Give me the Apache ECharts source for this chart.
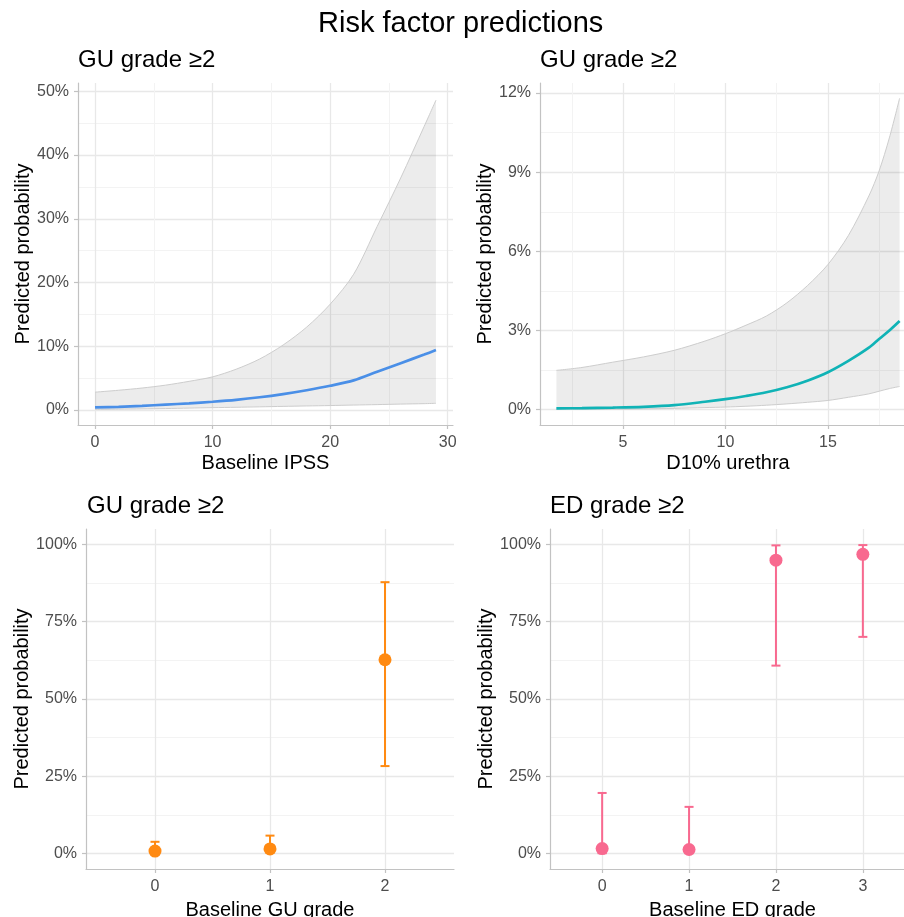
<!DOCTYPE html>
<html><head><meta charset="utf-8">
<script src="https://cdn.jsdelivr.net/npm/echarts@6/dist/echarts.min.js"></script>
<style>html,body{margin:0;padding:0;background:#fff}#c{width:904px;height:917px}</style>
</head><body><div id="c"></div>
<script>
// ---- data (percent) ----
const ipssX    = [0,2,4,6,8,10,12,14,16,18,20,22,24,26,28,29];
const ipssFit  = [0.4,0.5,0.65,0.85,1.05,1.3,1.6,2.0,2.5,3.1,3.8,4.65,6.0,7.35,8.7,9.4];
const ipssLow  = [0.1,0.14,0.18,0.23,0.3,0.37,0.43,0.5,0.57,0.64,0.7,0.78,0.85,0.93,1.0,1.05];
const ipssHigh = [2.8,3.1,3.45,3.9,4.5,5.2,6.4,8.0,10.2,13.0,16.6,21.3,28.8,36.4,44.5,48.6];

const d10X    = [1.75,3,4.5,6,7.5,9,10,11,12,13,14,15,16,17,17.5,18,18.5];
const d10Fit  = [0.05,0.06,0.08,0.11,0.17,0.30,0.40,0.52,0.66,0.85,1.10,1.42,1.85,2.35,2.68,3.0,3.36];
const d10Low  = [0.01,0.015,0.02,0.03,0.05,0.08,0.1,0.13,0.17,0.22,0.28,0.35,0.47,0.6,0.7,0.8,0.88];
const d10High = [1.49,1.6,1.8,2.0,2.25,2.6,2.88,3.2,3.55,4.05,4.7,5.5,6.6,8.1,9.05,10.3,11.8];

const guGrade = [0,1,2];
const guFit   = [0.8,1.5,62.7];
const guLow   = [0.2,0.4,28.3];
const guHigh  = [3.8,5.8,87.8];

const edGrade = [0,1,2,3];
const edFit   = [1.6,1.3,94.9,96.8];
const edLow   = [0.1,0.1,60.8,70.1];
const edHigh  = [19.6,15.1,99.7,99.8];

// ---- tick labels ----
const ipssTicks = [0,10,20,30];
const ipssMinor = [5,15,25];
const ipssYTicks = [0,10,20,30,40,50];
const ipssYMinor = [5,15,25,35,45];
const d10Ticks = [5,10,15];
const d10Minor = [2.5,7.5,12.5,17.5];
const d10YTicks = [0,3,6,9,12];
const d10YMinor = [1.5,4.5,7.5,10.5];
const guTicks = [0,1,2];
const edTicks = [0,1,2,3];
const probTicks = [0,25,50,75,100];
const probMinor = [12.5,37.5,62.5,87.5];

const FONT = 'Liberation Sans, Arial, sans-serif';
const AX = '#c2c2c2', MAJ = '#e8e8e8', MIN = '#f3f3f3';
const SMOOTH = 0.3;

function mainAxis(dir, gi, min, max, ticks, name, gap, pct) {
  const a = {
    type: 'value', gridIndex: gi, min: min, max: max,
    name: name, nameLocation: 'middle', nameGap: gap,
    nameTextStyle: {fontFamily: FONT, fontSize: 20, color: '#000'},
    axisLine: {show: true, onZero: false, lineStyle: {color: AX, width: 1.2}},
    axisTick: {show: true, length: 4, customValues: ticks, lineStyle: {color: AX, width: 1.2}},
    axisLabel: {customValues: ticks, fontFamily: FONT, fontSize: 16, color: '#4d4d4d',
                margin: dir === 'x' ? 10 : 9,
                formatter: pct ? (v => v + '%') : (v => String(v))},
    splitLine: {show: true, lineStyle: {color: MAJ, width: 1.3}},
    position: dir === 'x' ? 'bottom' : 'left'
  };
  if (dir === 'y') a.nameRotate = 90;
  return a;
}
function minorAxis(gi, min, max, vals, pos) {
  return {
    type: 'value', gridIndex: gi, min: min, max: max, position: pos,
    axisLine: {show: false}, axisTick: {show: false, customValues: vals},
    axisLabel: {show: false, customValues: vals},
    splitLine: {show: true, lineStyle: {color: MIN, width: 1}}
  };
}

function ribbon(xs, lo, hi) {
  return function (params, api) {
    if (params.dataIndex !== 0) return null;
    const n = xs.length;
    const up = [], dn = [];
    for (let i = 0; i < n; i++) up.push(api.coord([xs[i], hi[i]]));
    for (let i = n - 1; i >= 0; i--) dn.push(api.coord([xs[i], lo[i]]));
    const poly = [up[0]].concat(up, [up[n - 1]], [dn[0]], dn, [dn[n - 1]]);
    const edge = {stroke: '#cdcdcd', lineWidth: 1, fill: null};
    return {type: 'group', children: [
      {type: 'polygon', shape: {points: poly, smooth: SMOOTH}, style: {fill: 'rgba(0,0,0,0.075)'}},
      {type: 'polyline', shape: {points: up, smooth: SMOOTH}, style: edge},
      {type: 'polyline', shape: {points: dn, smooth: SMOOTH}, style: edge}
    ]};
  };
}
function errbar(color) {
  return function (params, api) {
    const x = api.value(0);
    const a = api.coord([x, api.value(1)]);
    const b = api.coord([x, api.value(2)]);
    const hw = 4.5;
    const st = {stroke: color, lineWidth: 2};
    return {type: 'group', children: [
      {type: 'line', shape: {x1: a[0], y1: a[1], x2: b[0], y2: b[1]}, style: st},
      {type: 'line', shape: {x1: b[0] - hw, y1: b[1], x2: b[0] + hw, y2: b[1]}, style: st},
      {type: 'line', shape: {x1: a[0] - hw, y1: a[1], x2: a[0] + hw, y2: a[1]}, style: st}
    ]};
  };
}
const zip = (xs, ys) => xs.map((x, i) => [x, ys[i]]);
const zip3 = (xs, a, b) => xs.map((x, i) => [x, a[i], b[i]]);

function bandSeries(ai, xs, fit, lo, hi, color) {
  return [
    {type: 'custom', xAxisIndex: ai, yAxisIndex: ai, data: zip3(xs, lo, hi),
     encode: {x: 0, y: [1, 2]}, renderItem: ribbon(xs, lo, hi), silent: true, z: 1},
    {type: 'line', xAxisIndex: ai, yAxisIndex: ai, data: zip(xs, fit), showSymbol: false, silent: true,
     smooth: SMOOTH, lineStyle: {color: color, width: 2.7}, z: 3}
  ];
}
function pointSeries(ai, xs, fit, lo, hi, color) {
  return [
    {type: 'custom', xAxisIndex: ai, yAxisIndex: ai, data: zip3(xs, lo, hi),
     encode: {x: 0, y: [1, 2]}, renderItem: errbar(color), silent: true, z: 2},
    {type: 'scatter', xAxisIndex: ai, yAxisIndex: ai, data: zip(xs, fit), symbolSize: 13,
     itemStyle: {color: color, opacity: 1}, silent: true, z: 3}
  ];
}

const chart = echarts.init(document.getElementById('c'), null, {renderer: 'canvas'});
const titleStyle = (fs) => ({fontFamily: FONT, fontSize: fs, fontWeight: 'normal', color: '#000'});
chart.setOption({
  animation: false,
  backgroundColor: '#fff',
  title: [
    {text: 'Risk factor predictions', left: 318, top: 9, textStyle: titleStyle(29), padding: 0},
    {text: 'GU grade ≥2', left: 78, top: 48, textStyle: titleStyle(24), padding: 0},
    {text: 'GU grade ≥2', left: 540, top: 48, textStyle: titleStyle(24), padding: 0},
    {text: 'GU grade ≥2', left: 87, top: 494, textStyle: titleStyle(24), padding: 0},
    {text: 'ED grade ≥2', left: 550, top: 494, textStyle: titleStyle(24), padding: 0}
  ],
  grid: [
    {left: 78, top: 83, width: 375, height: 342, outerBoundsMode: 'none', containLabel: false},
    {left: 540, top: 83, width: 376, height: 342, outerBoundsMode: 'none', containLabel: false},
    {left: 86, top: 529, width: 368, height: 340, outerBoundsMode: 'none', containLabel: false},
    {left: 550, top: 529, width: 365, height: 340, outerBoundsMode: 'none', containLabel: false}
  ],
  xAxis: [
    mainAxis('x', 0, -1.45, 30.45, ipssTicks, 'Baseline IPSS', 28, false),
    mainAxis('x', 1, 0.95, 19.3, d10Ticks, 'D10% urethra', 28, false),
    mainAxis('x', 2, -0.6, 2.6, guTicks, 'Baseline GU grade', 31, false),
    mainAxis('x', 3, -0.6, 3.6, edTicks, 'Baseline ED grade', 31, false),
    minorAxis(0, -1.45, 30.45, ipssMinor, 'top'),
    minorAxis(1, 0.95, 19.3, d10Minor, 'top')
  ],
  yAxis: [
    mainAxis('y', 0, -2.35, 51.3, ipssYTicks, 'Predicted probability', 45, true),
    mainAxis('y', 1, -0.58, 12.38, d10YTicks, 'Predicted probability', 45, true),
    mainAxis('y', 2, -5, 105, probTicks, 'Predicted probability', 54, true),
    mainAxis('y', 3, -5, 105, probTicks, 'Predicted probability', 54, true),
    minorAxis(0, -2.35, 51.3, ipssYMinor, 'right'),
    minorAxis(1, -0.58, 12.38, d10YMinor, 'right'),
    minorAxis(2, -5, 105, probMinor, 'right'),
    minorAxis(3, -5, 105, probMinor, 'right')
  ],
  series: [].concat(
    bandSeries(0, ipssX, ipssFit, ipssLow, ipssHigh, '#4A8FE7'),
    bandSeries(1, d10X, d10Fit, d10Low, d10High, '#10B3B6'),
    pointSeries(2, guGrade, guFit, guLow, guHigh, '#FF8A12'),
    pointSeries(3, edGrade, edFit, edLow, edHigh, '#F8698F')
  )
});
</script></body></html>
